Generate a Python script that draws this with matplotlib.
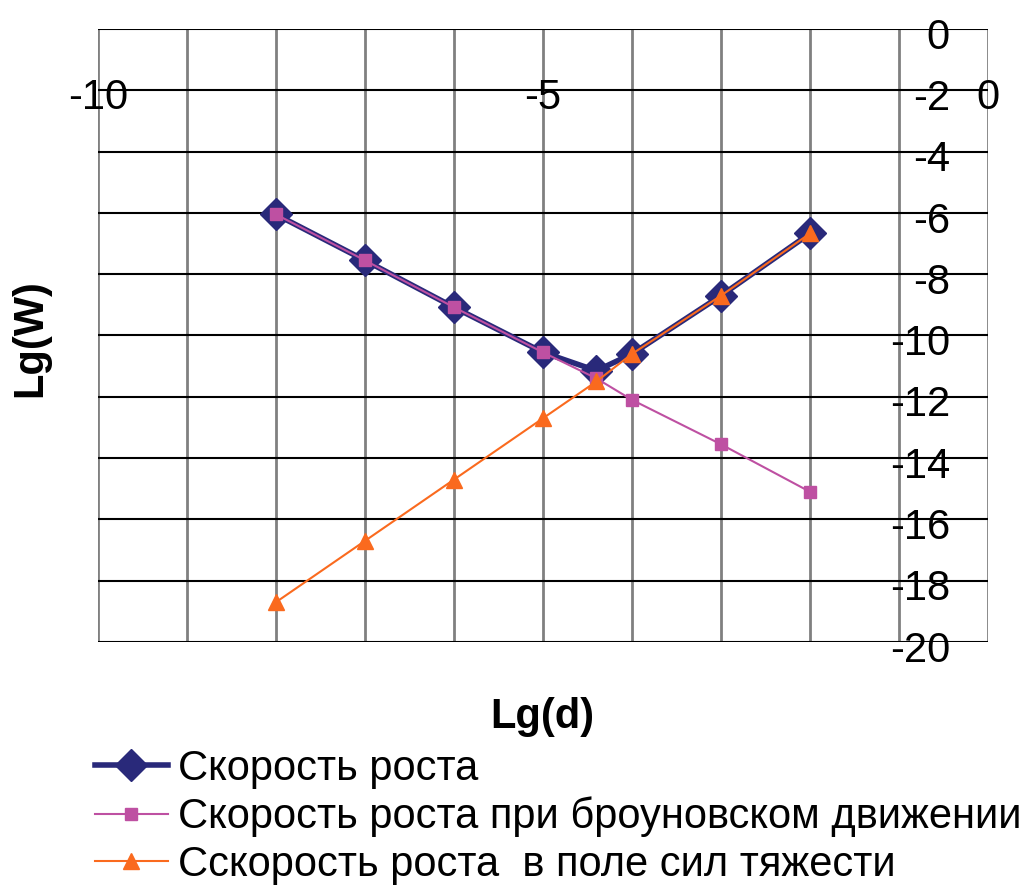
import matplotlib.pyplot as plt
from matplotlib.ticker import MultipleLocator
from matplotlib.transforms import ScaledTranslation

plt.rcParams['font.family'] = ['Liberation Sans', 'DejaVu Sans']

# lg of particle size and growth rates
lg_d = [-8, -7, -6, -5, -4.4, -4, -3, -2]
w_total = [-6.05, -7.55, -9.08, -10.55, -11.15, -10.6, -8.7, -6.67]
w_brown = [-6.05, -7.55, -9.08, -10.55, -11.4, -12.1, -13.55, -15.1]
w_grav = [-18.7, -16.7, -14.7, -12.7, -11.5, -10.6, -8.7, -6.67]

labels = ['Скорость роста',
          'Скорость роста при броуновском движении',
          'Сскорость роста  в поле сил тяжести']

navy = '#29297A'
pink = '#BE50A2'
orange = '#FA6A1E'

fig = plt.figure(figsize=(10.22, 8.9), dpi=100)
ax = fig.add_axes([98 / 1022, 1 - 642 / 890, 890 / 1022, 613 / 890])

ax.plot(lg_d, w_total, color=navy, lw=4, marker='D', ms=16.5, mec=navy, mfc=navy,
        label=labels[0], zorder=3)
ax.plot(lg_d, w_brown, color=pink, lw=1.5, marker='s', ms=8.6, mec=pink, mfc=pink,
        label=labels[1], zorder=4)
ax.plot(lg_d, w_grav, color=orange, lw=1.5, marker='^', ms=11, mec=orange, mfc=orange,
        label=labels[2], zorder=5)

ax.set_xlim(-10, 0)
ax.set_ylim(-20, 0)
ax.xaxis.set_major_locator(MultipleLocator(5))
ax.xaxis.set_minor_locator(MultipleLocator(1))
ax.yaxis.set_major_locator(MultipleLocator(2))

ax.grid(axis='x', which='both', color='#808080', lw=2, zorder=1)
ax.grid(axis='y', which='major', color='black', lw=1.5, zorder=1)
ax.set_axisbelow(True)

# axes cross at x=-1, y=0
ax.spines['left'].set_position(('data', -1))
ax.spines['bottom'].set_position(('data', 0))
for s in ax.spines.values():
    s.set_color('none')

ax.tick_params(axis='x', which='both', length=0, pad=35, labelsize=30)
ax.tick_params(axis='y', length=0, pad=-36.7, labelsize=30)
ax.set_xticklabels([f'{int(t)}' for t in ax.get_xticks()])
ax.set_yticklabels([f'{int(t)}' for t in ax.get_yticks()])
shift = ScaledTranslation(0, -3 / 72, fig.dpi_scale_trans)
for lbl in ax.get_yticklabels():
    lbl.set_transform(lbl.get_transform() + shift)

fig.text(30 / 1022, 1 - 338 / 890, 'Lg(W)', rotation=90, fontsize=30, fontweight='bold',
         ha='center', va='center')
fig.text(542 / 1022, 1 - 717 / 890, 'Lg(d)', fontsize=30, fontweight='bold',
         ha='center', va='center')

fig.legend(loc='upper left', bbox_to_anchor=(95 / 1022, 1 - 749 / 890), frameon=False,
           fontsize=30, handlelength=1.75, handletextpad=0.25, labelspacing=0.18,
           borderpad=0, borderaxespad=0)

fig.savefig('out.png', dpi=100)
